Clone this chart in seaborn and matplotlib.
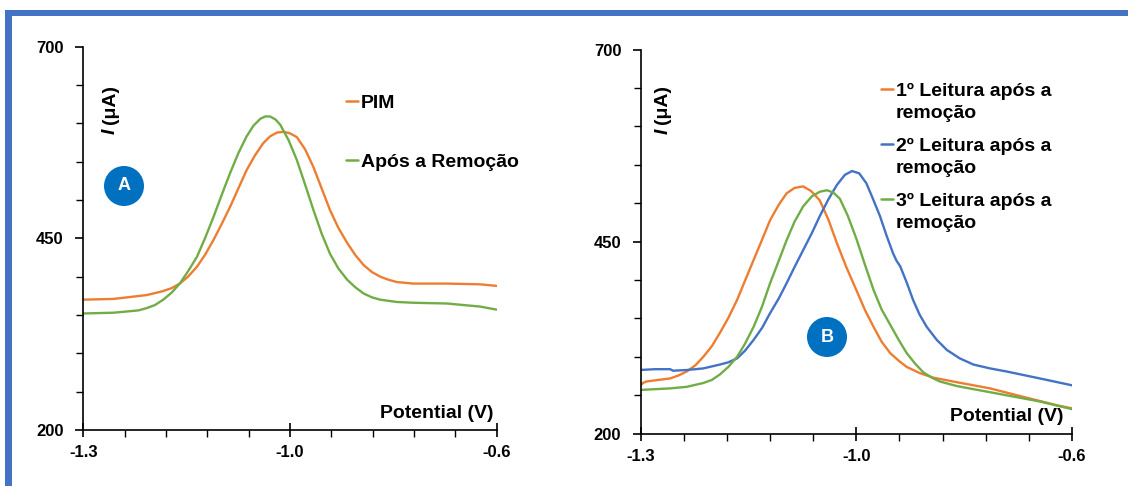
import numpy as np
import pandas as pd
import matplotlib
matplotlib.use("Agg")
import matplotlib.pyplot as plt
import seaborn as sns
from matplotlib.patches import Rectangle, Ellipse
from matplotlib.lines import Line2D

# ---------------- data ----------------
# Panel A
a_pim_x = [-1.300, -1.256, -1.208, -1.185, -1.172, -1.160, -1.148, -1.135, -1.123, -1.111,
           -1.099, -1.087, -1.075, -1.063, -1.051, -1.039, -1.029, -1.019, -1.009, -1.000,
           -0.990, -0.978, -0.966, -0.954, -0.942, -0.930, -0.917, -0.905, -0.893, -0.881,
           -0.869, -0.857, -0.845, -0.821, -0.772, -0.724, -0.700]
a_pim_y = [370, 371, 376, 381, 385, 391, 400, 413, 429, 448,
           469, 491, 515, 539, 558, 574, 583, 588, 589, 587,
           582, 566, 543, 515, 487, 464, 444, 428, 415, 406,
           400, 396, 393, 391, 391, 390, 388]
a_rem_x = [-1.300, -1.256, -1.220, -1.208, -1.196, -1.184, -1.172, -1.160, -1.148, -1.135,
           -1.123, -1.111, -1.099, -1.087, -1.075, -1.063, -1.053, -1.043, -1.036, -1.029,
           -1.021, -1.014, -1.002, -0.990, -0.978, -0.966, -0.954, -0.942, -0.930, -0.917,
           -0.905, -0.893, -0.881, -0.869, -0.845, -0.821, -0.772, -0.724, -0.700]
a_rem_y = [352, 353, 356, 359, 363, 370, 379, 391, 407, 426,
           451, 478, 507, 535, 561, 583, 597, 606, 609, 609,
           605, 598, 578, 552, 520, 487, 456, 430, 411, 396,
           386, 378, 373, 370, 367, 366, 365, 361, 357]

# Panel B
b1_x = [-1.300, -1.297, -1.292, -1.259, -1.247, -1.236, -1.224, -1.213, -1.201, -1.190,
        -1.178, -1.166, -1.155, -1.143, -1.131, -1.120, -1.108, -1.097, -1.086, -1.074,
        -1.063, -1.051, -1.039, -1.027, -1.014, -1.000, -0.988, -0.976, -0.965, -0.953,
        -0.941, -0.930, -0.912, -0.893, -0.860, -0.814, -0.768, -0.721, -0.700]
b1_y = [263, 266, 268, 272, 276, 281, 289, 300, 314, 331,
        351, 374, 399, 426, 453, 478, 498, 513, 520, 522,
        516, 504, 479, 448, 417, 387, 361, 339, 320, 305,
        295, 287, 279, 273, 267, 259, 248, 237, 233]
b2_x = [-1.300, -1.280, -1.259, -1.255, -1.235, -1.213, -1.190, -1.178, -1.166, -1.155,
        -1.143, -1.131, -1.120, -1.108, -1.097, -1.086, -1.074, -1.062, -1.051, -1.039,
        -1.027, -1.016, -1.006, -0.996, -0.986, -0.977, -0.967, -0.958, -0.949, -0.944,
        -0.939, -0.930, -0.921, -0.912, -0.902, -0.888, -0.874, -0.856, -0.837, -0.814,
        -0.791, -0.745, -0.700]
b2_y = [283, 284, 284, 282, 283, 285, 290, 293, 298, 308,
        322, 338, 357, 376, 396, 417, 439, 461, 483, 505,
        524, 537, 542, 539, 526, 506, 483, 458, 435, 425,
        418, 397, 374, 355, 339, 322, 309, 298, 290, 285,
        281, 272, 263]
b3_x = [-1.300, -1.259, -1.236, -1.213, -1.201, -1.190, -1.178, -1.166, -1.155, -1.143,
        -1.131, -1.120, -1.108, -1.097, -1.086, -1.074, -1.062, -1.051, -1.041, -1.032,
        -1.023, -1.012, -1.000, -0.988, -0.976, -0.965, -0.953, -0.941, -0.930, -0.918,
        -0.907, -0.895, -0.884, -0.860, -0.837, -0.791, -0.745, -0.700]
b3_y = [257, 259, 261, 266, 270, 277, 287, 300, 317, 339,
        366, 396, 425, 452, 476, 496, 509, 515, 517, 514,
        506, 484, 454, 420, 387, 362, 342, 322, 305, 291,
        280, 273, 268, 262, 258, 250, 242, 232]

labels_a = ["PIM", "Após a Remoção"]
labels_b = [("1º Leitura após a", "remoção"),
            ("2º Leitura após a", "remoção"),
            ("3º Leitura após a", "remoção")]
x_tick_vals = [-1.3, -1.0, -0.7]
x_tick_labels = ["-1.3", "-1.0", "-0.6"]
y_tick_vals = [200, 450, 700]

ORANGE = "#ED7D31"
BLUE = "#4472C4"
GREEN = "#70AD47"
FRAME = "#4472C4"
BADGE = "#0070C0"

# ---------------- style ----------------
sns.set_style("ticks")
plt.rcParams["font.family"] = ["Liberation Sans", "DejaVu Sans"]
plt.rcParams["font.weight"] = "bold"
plt.rcParams["text.color"] = "black"
plt.rcParams["xtick.color"] = "black"
plt.rcParams["ytick.color"] = "black"
plt.rcParams["axes.edgecolor"] = "black"

W, H = 1128, 486
fig = plt.figure(figsize=(W / 100, H / 100), dpi=100)


def fx(px):
    return px / W


def fy(py):
    return 1 - py / H


axA = fig.add_axes([fx(83.3), fy(430), fx(496.7) - fx(83.3), fy(46.7) - fy(430)])
axB = fig.add_axes([fx(640.7), fy(433.7), fx(1072) - fx(640.7), fy(49.7) - fy(433.7)])

LW = 1.7
sns.lineplot(x=a_pim_x, y=a_pim_y, ax=axA, color=ORANGE, lw=LW, sort=False)
sns.lineplot(x=a_rem_x, y=a_rem_y, ax=axA, color=GREEN, lw=LW, sort=False)
sns.lineplot(x=b1_x, y=b1_y, ax=axB, color=ORANGE, lw=LW, sort=False)
sns.lineplot(x=b2_x, y=b2_y, ax=axB, color=BLUE, lw=LW, sort=False)
sns.lineplot(x=b3_x, y=b3_y, ax=axB, color=GREEN, lw=LW, sort=False)

for ax in (axA, axB):
    ax.set_xlim(-1.3, -0.7)
    ax.set_ylim(200, 700)
    for s in ("top", "right"):
        ax.spines[s].set_visible(False)
    for s in ("left", "bottom"):
        ax.spines[s].set_linewidth(1.2)
        ax.spines[s].set_color("black")
    ax.set_xticks(x_tick_vals)
    ax.set_xticklabels(x_tick_labels)
    ax.set_xticks(np.linspace(-1.3, -0.7, 11), minor=True)
    ax.set_yticks(y_tick_vals)
    ax.set_yticks(np.arange(250, 700, 50), minor=True)
    ax.tick_params(axis="x", which="major", direction="inout", length=10, width=1.2,
                   pad=6, labelsize=12, color="black", labelcolor="black")
    ax.tick_params(axis="x", which="minor", direction="out", length=5, width=1.0, color="black")
    ax.tick_params(axis="y", which="major", direction="out", length=6, width=1.2,
                   pad=8, labelsize=12, color="black", labelcolor="black")
    ax.tick_params(axis="y", which="minor", direction="out", length=5, width=1.0, color="black")
    for t in ax.get_xticklabels() + ax.get_yticklabels():
        t.set_fontweight("bold")
    ax.set_xlabel("")
    ax.set_ylabel("")
    ax.patch.set_alpha(0)

LBL = 14

# y-axis labels
for xc in (110, 663):
    fig.text(fx(xc), fy(131), "I", rotation=90, ha="center", va="center",
             fontsize=LBL, fontweight="bold", fontstyle="italic")
    fig.text(fx(xc), fy(105), "(μA)", rotation=90, ha="center", va="center",
             fontsize=LBL, fontweight="bold")

# x-axis labels
fig.text(fx(493), fy(418), "Potential (V)", ha="right", va="baseline",
         fontsize=LBL, fontweight="bold")
fig.text(fx(1063), fy(421), "Potential (V)", ha="right", va="baseline",
         fontsize=LBL, fontweight="bold")

# legend A
for (lab, col, yc) in zip(labels_a, [ORANGE, GREEN], [101, 160]):
    fig.add_artist(Line2D([fx(346), fx(358)], [fy(yc), fy(yc)], color=col, lw=1.8,
                          transform=fig.transFigure))
    fig.text(fx(361), fy(yc + 7), lab, ha="left", va="baseline", fontsize=LBL, fontweight="bold")

# legend B
for (l1, l2), col, yc in zip(labels_b, [ORANGE, BLUE, GREEN], [89, 144, 199]):
    fig.add_artist(Line2D([fx(881), fx(893)], [fy(yc), fy(yc)], color=col, lw=1.8,
                          transform=fig.transFigure))
    fig.text(fx(896), fy(yc + 7), l1, ha="left", va="baseline", fontsize=LBL, fontweight="bold")
    fig.text(fx(896), fy(yc + 29), l2, ha="left", va="baseline", fontsize=LBL, fontweight="bold")

# badges
for (cx, cy, letter) in [(124, 186, "A"), (827, 337, "B")]:
    fig.add_artist(Ellipse((fx(cx), fy(cy)), 40 / W, 40 / H, transform=fig.transFigure,
                           facecolor=BADGE, edgecolor="none"))
    fig.text(fx(cx), fy(cy), letter, ha="center", va="center", color="white",
             fontsize=13, fontweight="bold")

# frame
fig.add_artist(Rectangle((fx(5), fy(16)), (W - 5) / W, 6 / H, transform=fig.transFigure,
                         facecolor=FRAME, edgecolor="none"))
fig.add_artist(Rectangle((fx(5), 0), 7 / W, fy(10), transform=fig.transFigure,
                         facecolor=FRAME, edgecolor="none"))

fig.savefig("out.png", dpi=100, facecolor="white")
